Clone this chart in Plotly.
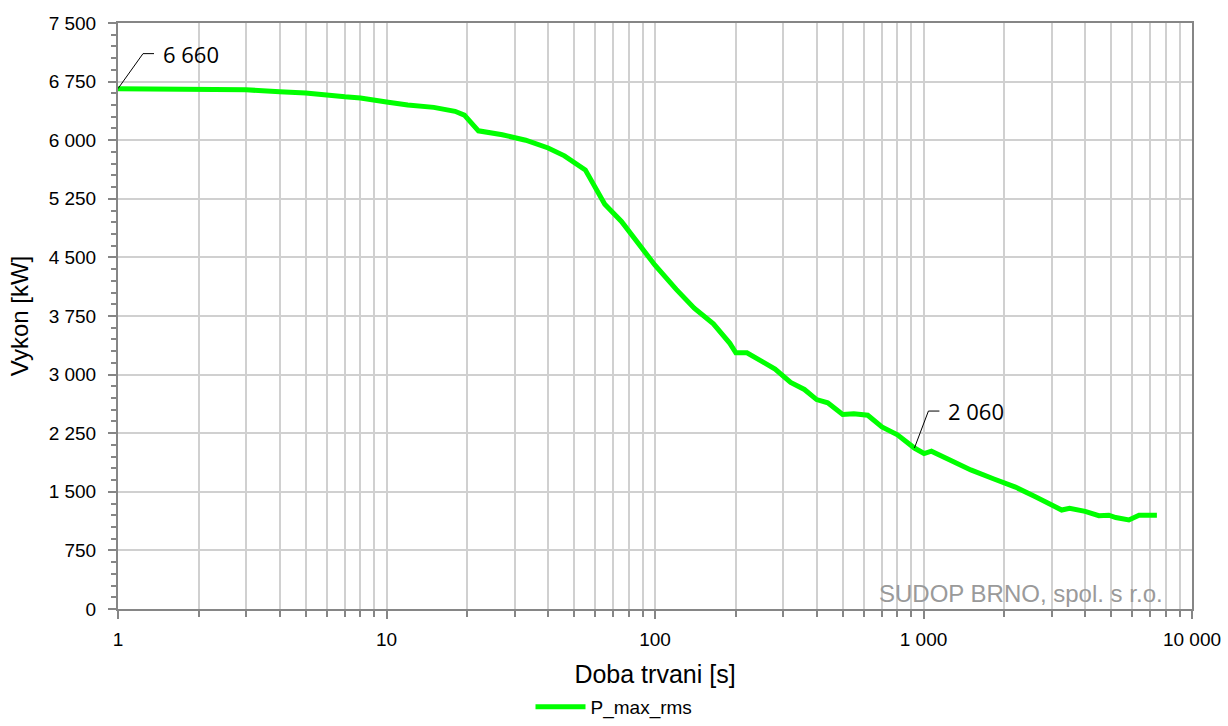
import math
import plotly.graph_objects as go

# Data
duration_s = [1, 1.5, 2, 3, 4, 5, 7, 8, 10, 12, 15, 18, 19.5, 22, 27, 33, 40, 46, 55, 60, 65,
              75, 85, 100, 120, 140, 165, 190, 200, 220, 250, 280, 320, 360, 400, 440, 500,
              550, 620, 700, 800, 925, 1005, 1070, 1300, 1500, 1830, 2200, 2600, 3270, 3500,
              4000, 4500, 4900, 5200, 5820, 6350, 7400]
power_kw = [6660, 6660, 6658, 6645, 6620, 6604, 6555, 6540, 6490, 6450, 6420, 6370, 6320, 6120,
            6070, 6000, 5900, 5800, 5620, 5400, 5180, 4960, 4720, 4400, 4090, 3850, 3650, 3400,
            3280, 3280, 3170, 3070, 2900, 2810, 2680, 2640, 2490, 2500, 2480, 2330, 2230, 2060,
            1990, 2020, 1880, 1780, 1664, 1560, 1440, 1267, 1290, 1250, 1195, 1200, 1170, 1140,
            1200, 1200]
series_name = "P_max_rms"

x_tickvals = [1, 10, 100, 1000, 10000]
x_ticktext = ["1", "10", "100", "1 000", "10 000"]
x_minorvals = [m * d for d in [1, 10, 100, 1000] for m in range(2, 10)]

callout_points = [(1, 6660, "6 660", 25, 35, 11), (925, 2060, "2 060", 14, 37, 11)]
watermark = "SUDOP BRNO, spol. s r.o."

AXIS_COL = "#868686"
GRID_COL = "#d0d0d0"

fig = go.Figure()
fig.add_trace(go.Scatter(
    x=duration_s, y=power_kw, mode="lines", name=series_name,
    line=dict(color="#00ff00", width=5),
))

shapes = []
annotations = []
for (px, py, label, dx, dy, hx) in callout_points:
    shapes.append(dict(
        type="path", xref="x", yref="y", xsizemode="pixel", ysizemode="pixel",
        xanchor=px, yanchor=py,
        path=f"M0,0 L{dx},{dy} L{dx + hx},{dy}",
        line=dict(color="black", width=1),
    ))
    annotations.append(dict(
        x=math.log10(px), y=py, xref="x", yref="y",
        text=label, showarrow=False, xanchor="left", yanchor="middle",
        xshift=dx + hx + 7, yshift=dy,
        font=dict(family="Open Sans", size=22, color="black"),
    ))

annotations.append(dict(
    x=1, y=0, xref="paper", yref="paper", text=watermark, showarrow=False,
    xanchor="right", yanchor="bottom", xshift=-27, yshift=0,
    font=dict(family="Liberation Sans, Arial", size=24, color="#9a9a9a"),
))

fig.update_layout(
    width=1228, height=726,
    paper_bgcolor="white", plot_bgcolor="white",
    margin=dict(l=118, r=36, t=23, b=117, autoexpand=False),
    font=dict(family="Liberation Sans, Arial", size=19, color="black"),
    separators=", ",
    showlegend=True,
    legend=dict(orientation="h", xref="container", yref="container",
                x=0.5, xanchor="center", y=0.0, yanchor="bottom",
                font=dict(size=19), itemwidth=50),
    shapes=shapes,
    annotations=annotations,
)

fig.update_xaxes(
    type="log", range=[0, 4], automargin=False,
    tickmode="array", tickvals=x_tickvals, ticktext=x_ticktext,
    ticks="outside", ticklen=8, tickwidth=2, tickcolor=AXIS_COL,
    showline=True, linecolor=AXIS_COL, linewidth=2, mirror=True,
    showgrid=True, gridcolor=GRID_COL, gridwidth=1.5,
    minor=dict(tickmode="array", tickvals=x_minorvals, ticks="outside", ticklen=6,
               tickcolor=AXIS_COL, tickwidth=1.5, showgrid=True, gridcolor=GRID_COL, gridwidth=1.5),
    title=dict(text="Doba trvani [s]", font=dict(size=25), standoff=22),
    tickfont=dict(size=19), ticklabelstandoff=4,
    zeroline=False,
)
fig.update_yaxes(
    range=[0, 7500], dtick=750, tick0=0, tickformat=",d", automargin=False,
    ticks="outside", ticklen=8, tickwidth=2, tickcolor=AXIS_COL,
    showline=True, linecolor=AXIS_COL, linewidth=2, mirror=True,
    showgrid=True, gridcolor=GRID_COL, gridwidth=1.5,
    minor=dict(dtick=150, tick0=0, ticks="outside", ticklen=5, tickcolor=AXIS_COL,
               tickwidth=1.5, showgrid=False),
    title=dict(text="Vykon [kW]", font=dict(size=24), standoff=13),
    tickfont=dict(size=19), ticklabelstandoff=8,
    zeroline=False,
)

fig.write_html("out.html", config={"displayModeBar": False},
               post_script="document.body.style.margin='0';")
